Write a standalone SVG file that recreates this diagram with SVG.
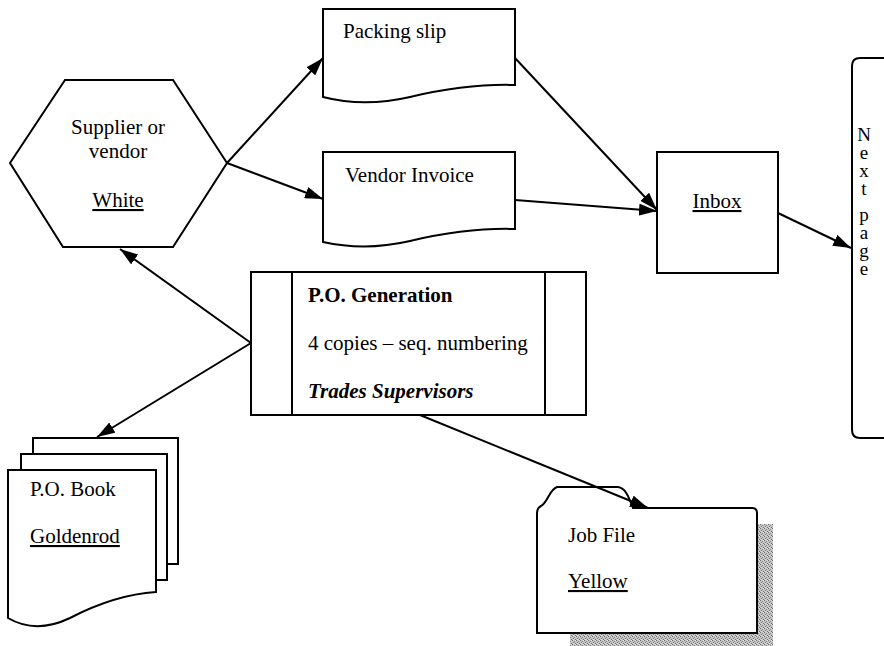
<svg xmlns="http://www.w3.org/2000/svg" width="884" height="646" viewBox="0 0 884 646">
  <style>
    .shape { fill: #ffffff; stroke: #000000; stroke-width: 2; stroke-linejoin: miter; }
    .edge { fill: none; stroke: #000000; stroke-width: 2; }
    .t { font-family: "Liberation Serif", "Times New Roman", serif; font-size: 21px; fill: #000000; }
    .v { font-family: "Liberation Serif", "Times New Roman", serif; font-size: 19px; fill: #000000;
         writing-mode: vertical-rl; text-orientation: upright; letter-spacing: -3px; }
    .u { text-decoration: underline; }
    .c { text-anchor: middle; }
  </style>
  <defs>
    <marker id="arrow" viewBox="0 0 18 12" refX="18" refY="6" markerWidth="18" markerHeight="12" markerUnits="userSpaceOnUse" orient="auto">
      <path d="M0,0 L18,6 L0,12 Z" fill="#000000"/>
    </marker>
    <!-- stippled grey used for the folder's drop shadow -->
    <pattern id="stipple" width="4" height="4" patternUnits="userSpaceOnUse">
      <rect width="4" height="4" fill="#c4c4c4"/>
      <rect x="0" y="0" width="1" height="1" fill="#6e6e6e"/>
      <rect x="2" y="1" width="1" height="1" fill="#8a8a8a"/>
      <rect x="1" y="2" width="1" height="1" fill="#7a7a7a"/>
      <rect x="3" y="3" width="1" height="1" fill="#6e6e6e"/>
      <rect x="3" y="0" width="1" height="1" fill="#e0e0e0"/>
      <rect x="1" y="3" width="1" height="1" fill="#e0e0e0"/>
    </pattern>
  </defs>

  <rect width="884" height="646" fill="#ffffff"/>

  <!-- connectors -->
  <g id="connectors">
    <line class="edge" x1="227" y1="163" x2="323" y2="58" marker-end="url(#arrow)"/>
    <line class="edge" x1="227" y1="163" x2="323" y2="199" marker-end="url(#arrow)"/>
    <line class="edge" x1="515" y1="58" x2="657" y2="210" marker-end="url(#arrow)"/>
    <line class="edge" x1="515" y1="200" x2="657" y2="211" marker-end="url(#arrow)"/>
    <line class="edge" x1="778" y1="213" x2="851" y2="248" marker-end="url(#arrow)"/>
    <line class="edge" x1="251" y1="343" x2="120" y2="249" marker-end="url(#arrow)"/>
    <line class="edge" x1="251" y1="343" x2="97" y2="437" marker-end="url(#arrow)"/>
  </g>

  <!-- supplier / vendor hexagon -->
  <g id="supplier">
    <polygon class="shape" points="65,80 173,80 227,163 173,247 63,247 10,163"/>
    <text class="t c" x="118" y="134">Supplier or</text>
    <text class="t c" x="118" y="158">vendor</text>
    <text class="t c u" x="118" y="207">White</text>
  </g>

  <!-- packing slip document -->
  <g id="packing-slip">
    <path class="shape" d="M323,9 H515 V85 C480,84 440,90 410,97 C380,104 350,104 323,97 Z"/>
    <text class="t" x="343" y="38">Packing slip</text>
  </g>

  <!-- vendor invoice document -->
  <g id="vendor-invoice">
    <path class="shape" d="M323,152 H515 V229 C480,228 440,234 410,241 C380,248 350,248 323,242 Z"/>
    <text class="t" x="345" y="182">Vendor Invoice</text>
  </g>

  <!-- inbox -->
  <g id="inbox">
    <rect class="shape" x="657" y="152" width="121" height="121"/>
    <text class="t c u" x="717" y="208">Inbox</text>
  </g>

  <!-- off-page connector to the next page, label stacked vertically -->
  <g id="next-page">
    <path class="shape" d="M895,58 H860 Q852,58 852,66 V430 Q852,438 860,438 H895"/>
    <text class="v" x="864" y="124">Next</text>
    <text class="v" x="864" y="204">page</text>
  </g>

  <!-- predefined process: P.O. generation -->
  <g id="po-generation">
    <rect class="shape" x="251" y="272" width="335" height="143"/>
    <line class="edge" x1="292" y1="272" x2="292" y2="415"/>
    <line class="edge" x1="545" y1="272" x2="545" y2="415"/>
    <text class="t" x="308" y="302" font-weight="bold">P.O. Generation</text>
    <text class="t" x="308" y="350">4 copies – seq. numbering</text>
    <text class="t" x="308" y="398" font-weight="bold" font-style="italic">Trades Supervisors</text>
  </g>

  <!-- P.O. book: stacked documents -->
  <g id="po-book">
    <rect class="shape" x="33" y="438" width="145" height="126"/>
    <rect class="shape" x="21" y="454" width="146" height="126"/>
    <path class="shape" d="M8,470 H156 V592 C125,594 95,605 70,618 C45,630 25,628 8,618 Z"/>
    <text class="t" x="30" y="496">P.O. Book</text>
    <text class="t u" x="30" y="543">Goldenrod</text>
  </g>

  <!-- job file folder with shadow -->
  <g id="job-file">
    <rect x="570" y="524" width="203" height="122" fill="url(#stipple)"/>
    <path class="shape" d="M537,633 V513 Q537,508 541,506 C548,502 549,490 557,487 H618 C626,488 629,498 633,508 H752 Q757,508 757,513 V633 Z"/>
    <text class="t" x="568" y="542">Job File</text>
    <text class="t u" x="568" y="588">Yellow</text>
  </g>

  <!-- connector drawn over the folder tab -->
  <g id="connectors-front">
    <line class="edge" x1="420" y1="415" x2="648" y2="508" marker-end="url(#arrow)"/>
  </g>
</svg>
